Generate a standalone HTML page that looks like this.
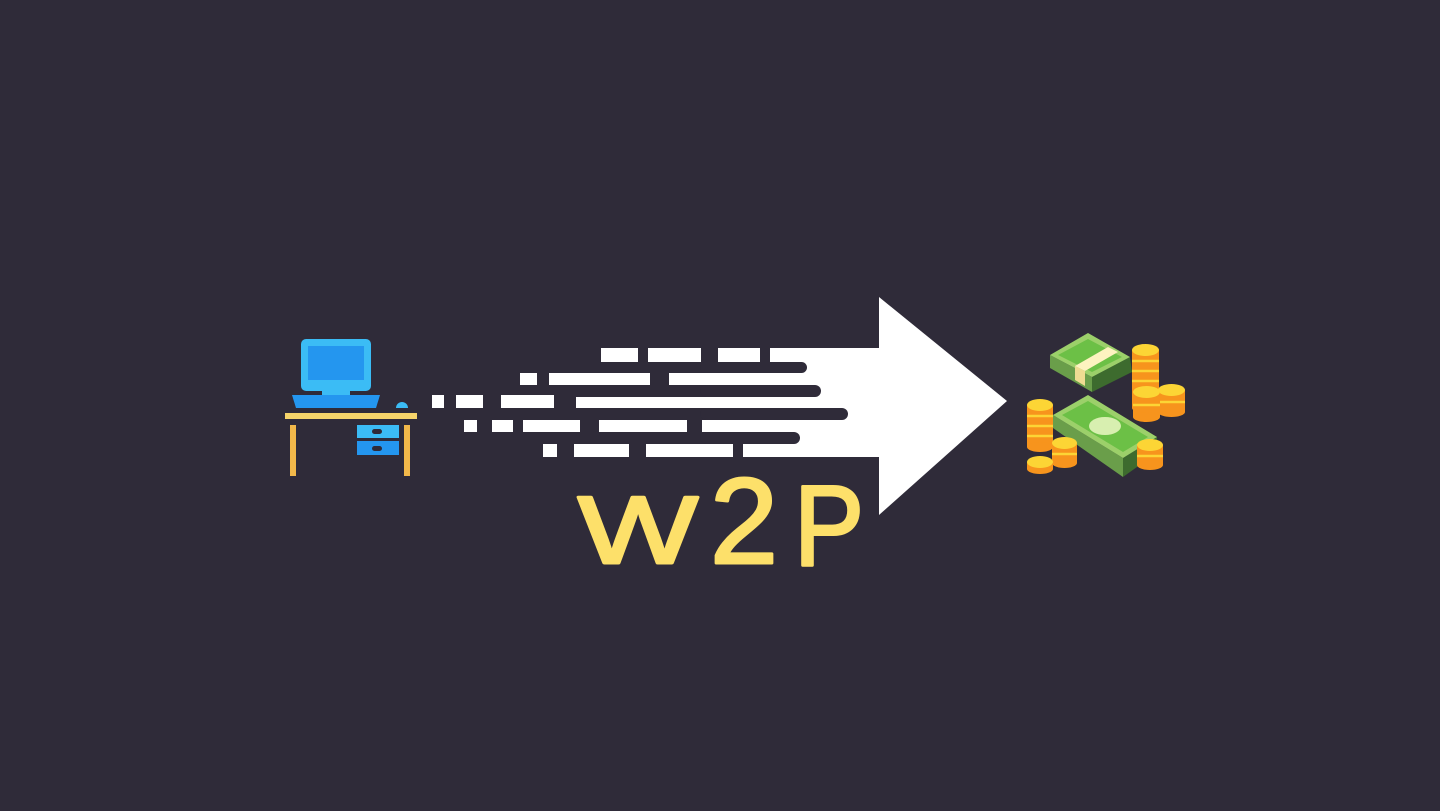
<!DOCTYPE html>
<html><head><meta charset="utf-8"><style>
html,body{margin:0;padding:0;background:#2f2b39;}
svg{display:block}
</style></head><body>
<svg width="1440" height="811" viewBox="0 0 1440 811" xmlns="http://www.w3.org/2000/svg">
<rect width="1440" height="811" fill="#2f2b39"/>
<rect x="301" y="339" width="70" height="52" rx="5" fill="#3bbcf5"/>
<rect x="308" y="346" width="56" height="34" fill="#2496ef"/>
<rect x="322" y="388" width="28" height="9" fill="#3bbcf5"/>
<polygon points="292,395 380,395 376,408 296,408" fill="#2496ef"/>
<path d="M396,408 a6,6 0 0 1 12,0 z" fill="#3bbcf5"/>
<rect x="285" y="413" width="132" height="6" fill="#f6d46a"/>
<rect x="290" y="425" width="6" height="51" fill="#f2b84a"/>
<rect x="404" y="425" width="6" height="51" fill="#f2b84a"/>
<rect x="357" y="425" width="42" height="13" fill="#3bbcf5"/>
<rect x="357" y="441" width="42" height="14" fill="#2496ef"/>
<rect x="372" y="429" width="10" height="5" rx="2.5" fill="#2f2b39"/>
<rect x="372" y="446" width="10" height="5" rx="2.5" fill="#2f2b39"/>
<g fill="#ffffff">
<rect x="601" y="348" width="37" height="14"/><rect x="648" y="348" width="53" height="14"/><rect x="718" y="348" width="42" height="14"/><rect x="770" y="348" width="112" height="14"/>
<rect x="520" y="373" width="17" height="12"/><rect x="549" y="373" width="101" height="12"/><rect x="669" y="373" width="213" height="12"/>
<rect x="432" y="395" width="12" height="13"/><rect x="456" y="395" width="27" height="13"/><rect x="501" y="395" width="53" height="13"/><rect x="576" y="397" width="306" height="11"/>
<rect x="464" y="420" width="13" height="12"/><rect x="492" y="420" width="21" height="12"/><rect x="523" y="420" width="57" height="12"/><rect x="599" y="420" width="88" height="12"/><rect x="702" y="420" width="180" height="12"/>
<rect x="543" y="444" width="14" height="13"/><rect x="574" y="444" width="55" height="13"/><rect x="646" y="444" width="87" height="13"/><rect x="743" y="444" width="139" height="13"/>
<rect x="780" y="360" width="102" height="86"/>
<polygon points="879,297 1007,401 879,515"/>
</g>
<g fill="#2f2b39">
<rect x="700" y="362" width="107" height="11" rx="5.5"/>
<rect x="700" y="385" width="121" height="12" rx="6"/>
<rect x="700" y="408" width="148" height="12" rx="6"/>
<rect x="700" y="432" width="100" height="12" rx="6"/>
</g>
<g fill="#fde06a" stroke="#fde06a" stroke-width="3" stroke-linejoin="round" font-family="'Liberation Sans', sans-serif" font-size="96">
<text x="578" y="563" textLength="120" lengthAdjust="spacingAndGlyphs">W</text>
<text x="710" y="563" textLength="68" lengthAdjust="spacingAndGlyphs" font-size="122">2</text>
<text x="794" y="565" textLength="70" lengthAdjust="spacingAndGlyphs" font-size="114">P</text>
</g>
<polygon points="1050,355 1050,368 1092,392 1092,377" fill="#6a9e4a"/>
<polygon points="1092,377 1092,392 1132,372 1130,357" fill="#3d6b2e"/>
<polygon points="1050,355 1088,333 1130,357 1092,377" fill="#9cd06a"/>
<polygon points="1058,355 1088,339 1122,357 1092,372" fill="#6cc046"/>
<polygon points="1075,366 1108,347 1118,352 1085,371" fill="#fdf3c0"/>
<polygon points="1075,366 1085,371 1085,386 1075,380" fill="#efdc92"/>
<polygon points="1053,415 1053,428 1123,477 1123,458" fill="#6a9e4a"/>
<polygon points="1123,458 1123,477 1158,452 1157,437" fill="#3d6b2e"/>
<polygon points="1053,415 1088,395 1157,437 1123,458" fill="#9cd06a"/>
<polygon points="1062,415 1088,401 1148,437 1123,452" fill="#6cc046"/>
<ellipse cx="1105" cy="426" rx="16" ry="9" fill="#d8efb0"/>
<g>
<rect x="1132" y="350" width="27" height="58" fill="#f7941d"/><ellipse cx="1145.5" cy="408" rx="13.5" ry="5" fill="#f7941d"/>
<g stroke="#fcd535" stroke-width="2.5"><line x1="1132" y1="361" x2="1159" y2="361"/><line x1="1132" y1="371" x2="1159" y2="371"/><line x1="1132" y1="381" x2="1159" y2="381"/></g>
<ellipse cx="1145.5" cy="350" rx="13.5" ry="6" fill="#fcd535"/>
<rect x="1158" y="390" width="27" height="22" fill="#f7941d"/><ellipse cx="1171.5" cy="412" rx="13.5" ry="5" fill="#f7941d"/>
<line x1="1158" y1="402" x2="1185" y2="402" stroke="#fcd535" stroke-width="2.5"/>
<ellipse cx="1171.5" cy="390" rx="13.5" ry="6" fill="#fcd535"/>
<rect x="1133" y="392" width="27" height="25" fill="#f7941d"/><ellipse cx="1146.5" cy="417" rx="13.5" ry="5" fill="#f7941d"/>
<line x1="1133" y1="405" x2="1160" y2="405" stroke="#fcd535" stroke-width="2.5"/>
<ellipse cx="1146.5" cy="392" rx="13.5" ry="6" fill="#fcd535"/>
<rect x="1027" y="405" width="26" height="42" fill="#f7941d"/><ellipse cx="1040" cy="447" rx="13" ry="5" fill="#f7941d"/>
<g stroke="#fcd535" stroke-width="2.5"><line x1="1027" y1="416" x2="1053" y2="416"/><line x1="1027" y1="426" x2="1053" y2="426"/><line x1="1027" y1="436" x2="1053" y2="436"/></g>
<ellipse cx="1040" cy="405" rx="13" ry="6" fill="#fcd535"/>
<rect x="1052" y="443" width="25" height="20" fill="#f7941d"/><ellipse cx="1064.5" cy="463" rx="12.5" ry="5" fill="#f7941d"/>
<line x1="1052" y1="454" x2="1077" y2="454" stroke="#fcd535" stroke-width="2.5"/>
<ellipse cx="1064.5" cy="443" rx="12.5" ry="6" fill="#fcd535"/>
<rect x="1027" y="462" width="26" height="7" fill="#f7941d"/><ellipse cx="1040" cy="469" rx="13" ry="5" fill="#f7941d"/><ellipse cx="1040" cy="462" rx="13" ry="6" fill="#fcd535"/>
<rect x="1137" y="445" width="26" height="20" fill="#f7941d"/><ellipse cx="1150" cy="465" rx="13" ry="5" fill="#f7941d"/>
<line x1="1137" y1="456" x2="1163" y2="456" stroke="#fcd535" stroke-width="2.5"/>
<ellipse cx="1150" cy="445" rx="13" ry="6" fill="#fcd535"/>
</g>
</svg>
</body></html>
